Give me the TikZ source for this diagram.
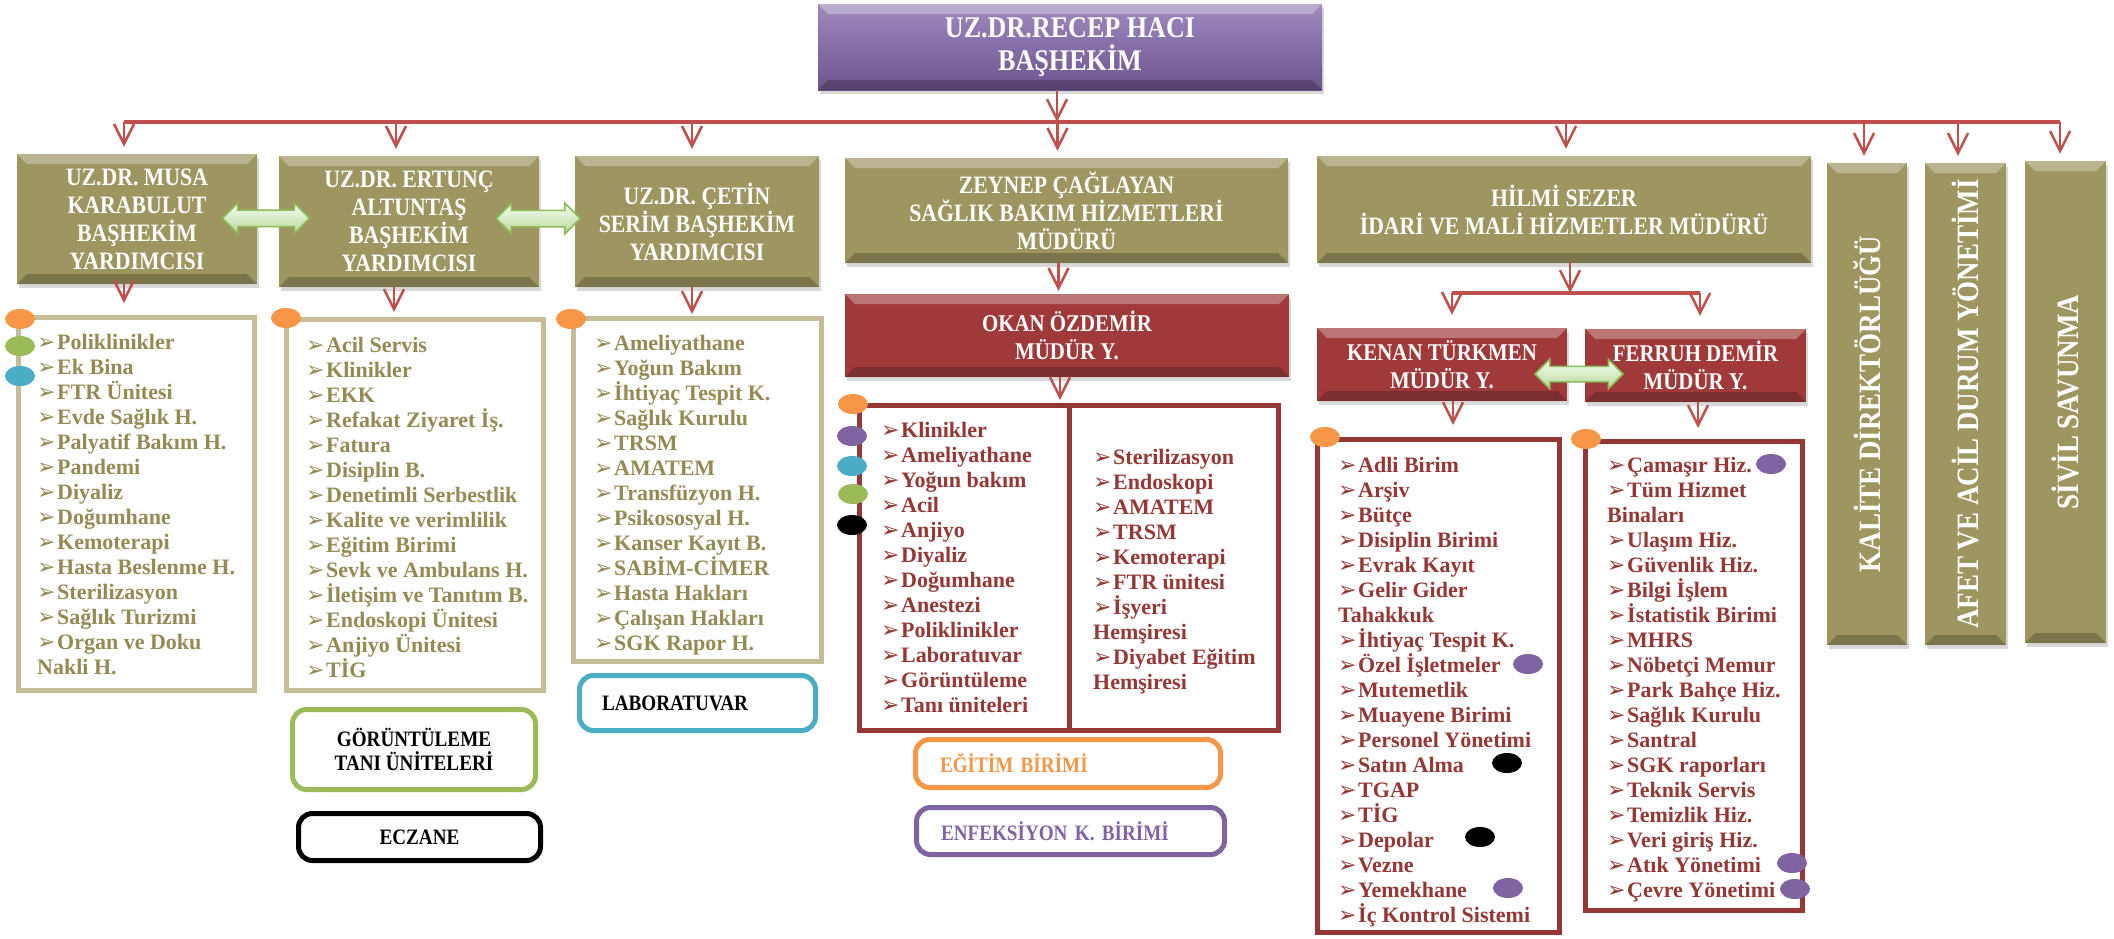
\documentclass[tikz,border=0pt]{standalone}
\usepackage{fontspec}
\setmainfont{Liberation Serif}
\newfontfamily\headfont{Liberation Serif}[FakeStretch=0.87]
\newfontfamily\dingfont{DejaVu Sans}
\usetikzlibrary{arrows.meta,calc,shapes.geometric,shapes.arrows,shadows}

\definecolor{olivebox}{HTML}{9D9660}
\definecolor{olivetxt}{HTML}{948A54}
\definecolor{khaki}{HTML}{C4BD97}
\definecolor{redbox}{HTML}{A03A3A}
\definecolor{redtxt}{HTML}{953735}
\definecolor{redline}{HTML}{C0504D}
\definecolor{purplebox}{HTML}{7F62A8}
\definecolor{dotorange}{HTML}{F79646}
\definecolor{dotgreen}{HTML}{9BBB59}
\definecolor{dotblue}{HTML}{4BACC6}
\definecolor{dotpurple}{HTML}{8064A2}
\definecolor{arrowgreen}{HTML}{8DBB55}

\newcommand\itm{\makebox[20pt][l]{\dingfont\fontsize{22}{22}\selectfont ➢}}

\tikzset{
  >={Straight Barb[length=20pt,width=20pt]},
  conn/.style={draw=redline, line width=2.5pt, ->, shorten >=7pt},
  bus/.style={draw=redline, line width=3.5pt},
  bevel/.style={path picture={
    \fill[white,opacity=0.3] (path picture bounding box.north west) -- (path picture bounding box.north east)
      -- ([xshift=-10pt,yshift=-10pt]path picture bounding box.north east) -- ([xshift=10pt,yshift=-10pt]path picture bounding box.north west) -- cycle;
    \fill[black,opacity=0.22] (path picture bounding box.south west) -- (path picture bounding box.south east)
      -- ([xshift=-10pt,yshift=10pt]path picture bounding box.south east) -- ([xshift=10pt,yshift=10pt]path picture bounding box.south west) -- cycle;}},
  head/.style={rectangle, bevel, inner sep=0, text=white, align=center,
    drop shadow={opacity=0.3, shadow xshift=2pt, shadow yshift=-4pt}},
  hbox/.style={head, fill=olivebox, font=\headfont\bfseries\fontsize{25}{28}\selectfont},
  rbox/.style={head, fill=redbox, font=\headfont\bfseries\fontsize{24}{28}\selectfont},
  pbox/.style={head, top color=purplebox!75!white, bottom color=purplebox!85!black, font=\headfont\bfseries\fontsize{30}{33}\selectfont},
  vtext/.style={rotate=90, text=white, font=\headfont\bfseries\fontsize{31}{31}\selectfont},
  lbox/.style={rectangle, draw=#1, line width=5pt, fill=white, inner sep=0},
  tbox/.style={rectangle, rounded corners=14pt, draw=#1, line width=5pt, fill=white, align=center,
    font=\headfont\bfseries\fontsize{22}{24}\selectfont},
  litem/.style={anchor=base west, inner sep=0, text=#1, font=\bfseries\fontsize{22}{25}\selectfont},
  dot/.style={ellipse, fill=#1, minimum width=30pt, minimum height=20pt, inner sep=0},
  dbl/.style={double arrow, double arrow head extend=7pt, double arrow head indent=0pt,
    minimum height=#1, inner sep=0, draw=arrowgreen, line width=1.5pt,
    top color=green!5!white, bottom color=arrowgreen!60!white}
}

\begin{document}
\begin{tikzpicture}[x=1pt,y=-1pt]
\path[fill=white, use as bounding box] (0,0) rectangle (2114,938);

% heads
\node[pbox, minimum width=504pt, minimum height=86pt] (basi) at (1070,47) {UZ.DR.RECEP HACI\\BAŞHEKİM};
\node[hbox, minimum width=240pt, minimum height=130pt] (musa) at (137,219) {UZ.DR. MUSA\\KARABULUT\\BAŞHEKİM\\YARDIMCISI};
\node[hbox, minimum width=260pt, minimum height=131pt] (ertunc) at (409,221.5) {UZ.DR. ERTUNÇ\\ALTUNTAŞ\\BAŞHEKİM\\YARDIMCISI};
\node[hbox, minimum width=244pt, minimum height=131pt] (cetin) at (697,221.5) {UZ.DR. ÇETİN\\SERİM BAŞHEKİM\\YARDIMCISI};
\node[hbox, minimum width=443pt, minimum height=105pt] (zeynep) at (1066.5,210.5) {ZEYNEP ÇAĞLAYAN\\SAĞLIK BAKIM HİZMETLERİ\\MÜDÜRÜ};
\node[hbox, minimum width=494pt, minimum height=107pt] (hilmi) at (1564,209.5) {HİLMİ SEZER\\İDARİ VE MALİ HİZMETLER MÜDÜRÜ};
\node[hbox, minimum width=80pt, minimum height=482pt] (kalite) at (1867,404) {};
\node[hbox, minimum width=81pt, minimum height=482pt] (afet) at (1965.5,404) {};
\node[hbox, minimum width=81pt, minimum height=482pt] (sivil) at (2065.5,402) {};
\node[vtext] (kalitet) at (kalite) {KALİTE DİREKTÖRLÜĞÜ};
\node[vtext] (afett) at (afet) {AFET VE ACİL DURUM YÖNETİMİ};
\node[vtext] (sivilt) at (sivil) {SİVİL SAVUNMA};

\node[rbox, minimum width=444pt, minimum height=83pt] (okan) at (1067,335.5) {OKAN ÖZDEMİR\\MÜDÜR Y.};
\node[rbox, minimum width=250pt, minimum height=73pt] (kenan) at (1442,364.5) {KENAN TÜRKMEN\\MÜDÜR Y.};
\node[rbox, minimum width=221pt, minimum height=73pt] (ferruh) at (1695.5,365.5) {FERRUH DEMİR\\MÜDÜR Y.};

% lists
\node[lbox=khaki, minimum width=236pt, minimum height=373pt] (l1) at (136.5,504) {};
\node[lbox=khaki, minimum width=257pt, minimum height=371pt] (l2) at (415,505) {};
\node[lbox=khaki, minimum width=248pt, minimum height=343pt] (l3) at (697.5,490) {};
\node[lbox=redtxt, minimum width=419pt, minimum height=325pt] (lok) at (1069,568) {};
\draw[redtxt, line width=5pt] (lok.north) -- (lok.south);
\node[lbox=redtxt, minimum width=242pt, minimum height=493pt] (lke) at (1438.5,686) {};
\node[lbox=redtxt, minimum width=217pt, minimum height=469pt] (lfe) at (1694,676) {};

\foreach \t [count=\i from 0] in {\itm Poliklinikler, \itm Ek Bina, \itm FTR Ünitesi, \itm Evde Sağlık H., \itm Palyatif Bakım H., \itm Pandemi, \itm Diyaliz, \itm Doğumhane, \itm Kemoterapi, \itm Hasta Beslenme H., \itm Sterilizasyon, \itm Sağlık Turizmi, \itm Organ ve Doku, Nakli H.}
  \node[litem=olivetxt] (l1-\i) at (37,349+25*\i) {\t};
\foreach \t [count=\i from 0] in {\itm Acil Servis, \itm Klinikler, \itm EKK, \itm Refakat Ziyaret İş., \itm Fatura, \itm Disiplin B., \itm Denetimli Serbestlik, \itm Kalite ve verimlilik, \itm Eğitim Birimi, \itm Sevk ve Ambulans H., \itm İletişim ve Tanıtım B., \itm Endoskopi Ünitesi, \itm Anjiyo Ünitesi, \itm TİG}
  \node[litem=olivetxt] (l2-\i) at (306,352+25*\i) {\t};
\foreach \t [count=\i from 0] in {\itm Ameliyathane, \itm Yoğun Bakım, \itm İhtiyaç Tespit K., \itm Sağlık Kurulu, \itm TRSM, \itm AMATEM, \itm Transfüzyon H., \itm Psikososyal H., \itm Kanser Kayıt B., \itm SABİM-CİMER, \itm Hasta Hakları, \itm Çalışan Hakları, \itm SGK Rapor H.}
  \node[litem=olivetxt] (l3-\i) at (594,350+25*\i) {\t};
\foreach \t [count=\i from 0] in {\itm Klinikler, \itm Ameliyathane, \itm Yoğun bakım, \itm Acil, \itm Anjiyo, \itm Diyaliz, \itm Doğumhane, \itm Anestezi, \itm Poliklinikler, \itm Laboratuvar, \itm Görüntüleme, \itm Tanı üniteleri}
  \node[litem=redtxt] (lka-\i) at (881,437+25*\i) {\t};
\foreach \t [count=\i from 0] in {\itm Sterilizasyon, \itm Endoskopi, \itm AMATEM, \itm TRSM, \itm Kemoterapi, \itm FTR ünitesi, \itm İşyeri, Hemşiresi, \itm Diyabet Eğitim, Hemşiresi}
  \node[litem=redtxt] (lkb-\i) at (1093,464+25*\i) {\t};
\foreach \t [count=\i from 0] in {\itm Adli Birim, \itm Arşiv, \itm Bütçe, \itm Disiplin Birimi, \itm Evrak Kayıt, \itm Gelir Gider, Tahakkuk, \itm İhtiyaç Tespit K., \itm Özel İşletmeler, \itm Mutemetlik, \itm Muayene Birimi, \itm Personel Yönetimi, \itm Satın Alma, \itm TGAP, \itm TİG, \itm Depolar, \itm Vezne, \itm Yemekhane, \itm İç Kontrol Sistemi}
  \node[litem=redtxt] (lke-\i) at (1338,472+25*\i) {\t};
\foreach \t [count=\i from 0] in {\itm Çamaşır Hiz., \itm Tüm Hizmet, Binaları, \itm Ulaşım Hiz., \itm Güvenlik Hiz., \itm Bilgi İşlem, \itm İstatistik Birimi, \itm MHRS, \itm Nöbetçi Memur, \itm Park Bahçe Hiz., \itm Sağlık Kurulu, \itm Santral, \itm SGK raporları, \itm Teknik Servis, \itm Temizlik Hiz., \itm Veri giriş Hiz., \itm Atık Yönetimi, \itm Çevre Yönetimi}
  \node[litem=redtxt] (lfe-\i) at (1607,472+25*\i) {\t};

% colour dots
\node[dot=dotorange] (l1o) at (20,319) {};
\node[dot=dotgreen] (l1g) at (20,346) {};
\node[dot=dotblue] (l1b) at (20,376) {};
\node[dot=dotorange] (l2o) at (286,318) {};
\node[dot=dotorange] (l3o) at (571,319) {};
\node[dot=dotorange] (lko) at (853,404) {};
\node[dot=dotpurple] (lkp) at (852,436) {};
\node[dot=dotblue] (lkb) at (852,466) {};
\node[dot=dotgreen] (lkg) at (853,494) {};
\node[dot=black] (lkk) at (852,525) {};
\node[dot=dotorange] (keo) at (1325,437) {};
\node[dot=dotpurple] (kep1) at (1528,664) {};
\node[dot=black] (kek1) at (1507,763) {};
\node[dot=black] (kek2) at (1480,837) {};
\node[dot=dotpurple] (kep2) at (1508,888) {};
\node[dot=dotorange] (feo) at (1586,439) {};
\node[dot=dotpurple] (fep1) at (1771,464) {};
\node[dot=dotpurple] (fep2) at (1792,863) {};
\node[dot=dotpurple] (fep3) at (1795,889) {};

% small units
\node[tbox=dotblue, minimum width=236pt, minimum height=55pt, text width=191pt, align=left] (lab) at (697.5,703) {LABORATUVAR};
\node[tbox=dotgreen, minimum width=243pt, minimum height=80pt] (gor) at (414,749.5) {GÖRÜNTÜLEME\\TANI ÜNİTELERİ};
\node[tbox=black, minimum width=242pt, minimum height=47pt] (ecz) at (419.5,837) {ECZANE};
\node[tbox=dotorange, text=dotorange, minimum width=305pt, minimum height=48pt, text width=256pt, align=left] (egt) at (1068,763.5) {EĞİTİM BİRİMİ};
\node[tbox=dotpurple, text=dotpurple, minimum width=308pt, minimum height=47pt, text width=259pt, align=left] (enf) at (1070.5,831) {ENFEKSİYON K. BİRİMİ};

% connectors
\coordinate (busL) at (124,122);
\coordinate (busR) at (2060,122);
\draw[bus] (busL) -- (busR);
\draw[conn, shorten >=0pt] ([xshift=-13pt]basi.south) -- ([xshift=-13pt]basi.south |- busL);
\foreach \n/\dx in {musa/-13, ertunc/-13, cetin/-5, zeynep/-9, hilmi/2, kalite/-3, afet/-7.5, sivil/-5.5}
  \draw[conn] ([xshift=\dx pt]\n.north |- busL) -- ([xshift=\dx pt]\n.north);
\draw[conn, shorten >=12pt] ([xshift=-13pt]musa.south) -- ([xshift=-13pt]musa.south |- l1.north);
\draw[conn, shorten >=5pt] ([xshift=-15pt]ertunc.south) -- ([xshift=-15pt]ertunc.south |- l2.north);
\draw[conn, shorten >=2pt] ([xshift=-5pt]cetin.south) -- ([xshift=-5pt]cetin.south |- l3.north);
\draw[conn, shorten >=3pt] ([xshift=-8pt]zeynep.south) -- ([xshift=-8pt]zeynep.south |- okan.north);
\draw[conn, shorten >=3pt] ([xshift=-7pt]okan.south) -- ([xshift=-7pt]okan.south |- lok.north);

\coordinate (bus2L) at (1452,293);
\coordinate (bus2R) at (1700,293);
\draw[bus] (bus2L) -- (bus2R);
\draw[conn, shorten >=0pt] ([xshift=6pt]hilmi.south) -- ([xshift=6pt]hilmi.south |- bus2L);
\draw[conn, shorten >=13pt] (bus2L) -- (bus2L |- kenan.north);
\draw[conn, shorten >=13pt] (bus2R) -- (bus2R |- ferruh.north);
\draw[conn, shorten >=12pt] ([xshift=11pt]kenan.south) -- ([xshift=11pt]kenan.south |- lke.north);
\draw[conn, shorten >=11pt] ([xshift=2.5pt]ferruh.south) -- ([xshift=2.5pt]ferruh.south |- lfe.north);

% double arrows
\node[dbl=87pt] (da1) at ($(musa.east)!0.5!(ertunc.west)+(-2,-2)$) {\rule{0pt}{15pt}};
\node[dbl=84pt] (da2) at ($(ertunc.east)+(-1,-3)$) {\rule{0pt}{15pt}};
\node[dbl=88pt] (da3) at ($(kenan.east)!0.5!(ferruh.west)+(3,9)$) {\rule{0pt}{14pt}};
\end{tikzpicture}
\end{document}
